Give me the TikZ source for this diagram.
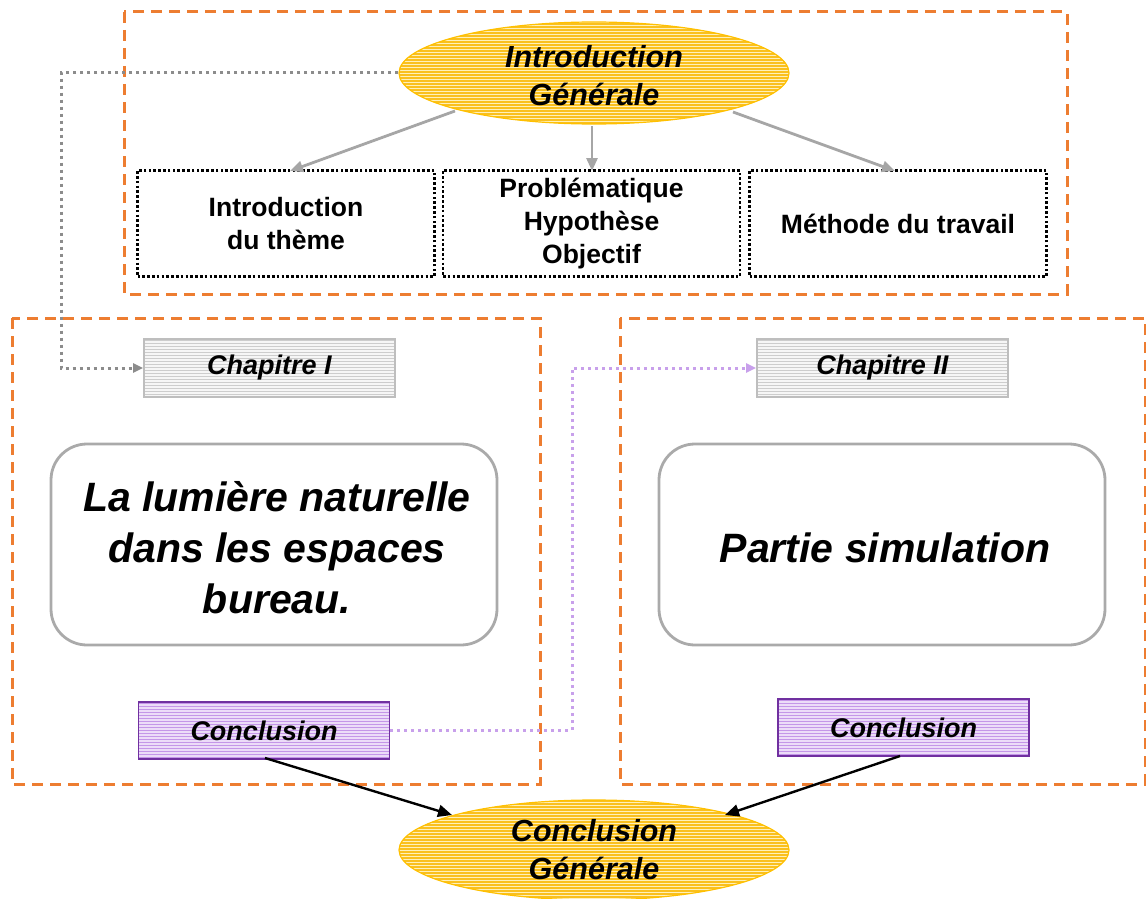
\documentclass[tikz,border=0pt]{standalone}
\usepackage{fontspec}
\setmainfont{Liberation Sans}
\usetikzlibrary{patterns,arrows.meta,shapes.geometric}
\definecolor{dashorange}{RGB}{237,125,49}
\definecolor{ellfill}{RGB}{250,192,30}
\definecolor{ellline}{RGB}{255,240,185}
\definecolor{ellborder}{RGB}{255,192,0}
\definecolor{chapfill}{RGB}{246,246,246}
\definecolor{chapline}{RGB}{205,205,205}
\definecolor{chapborder}{RGB}{190,190,190}
\definecolor{conclfill}{RGB}{236,220,248}
\definecolor{conclline}{RGB}{196,150,232}
\definecolor{conclborder}{RGB}{112,48,160}
\definecolor{arrgray}{RGB}{166,166,166}
\definecolor{dotgray}{RGB}{140,140,140}
\definecolor{dotpurple}{RGB}{200,160,235}
\definecolor{roundgray}{RGB}{170,170,170}
\tikzset{
  groupbox/.style={draw=dashorange, line width=3pt, dash pattern={on 11pt off 7pt}},
  bigell/.style={ellipse, minimum width=390pt, minimum height=102pt, draw=ellborder, line width=1.2pt,
    preaction={fill=ellfill}, pattern=horizontal lines, pattern color=ellline, align=center,
    font=\fontsize{30.5}{38}\selectfont\bfseries\itshape, inner sep=0pt},
  dotbox/.style={draw=black, line width=2.8pt, dash pattern={on 2.6pt off 2.2pt}, minimum width=297pt,
    minimum height=106pt, align=center, font=\fontsize{26.5}{33}\selectfont\bfseries, inner sep=0pt},
  chapbox/.style={draw=chapborder, line width=1.8pt, preaction={fill=chapfill}, pattern=horizontal lines,
    pattern color=chapline, minimum width=251pt, minimum height=58pt, inner sep=0pt,
    font=\fontsize{27}{30}\selectfont\bfseries\itshape},
  conclbox/.style={draw=conclborder, line width=1.8pt, preaction={fill=conclfill}, pattern=horizontal lines,
    pattern color=conclline, minimum width=251pt, minimum height=57pt, inner sep=0pt,
    font=\fontsize{27}{30}\selectfont\bfseries\itshape},
  roundbox/.style={draw=roundgray, line width=2.8pt, rounded corners=36pt, fill=white, minimum width=446pt,
    minimum height=201pt, inner sep=0pt},
  roundtext/.style={align=center, inner sep=0pt, font=\fontsize{41}{51}\selectfont\bfseries\itshape},
  grayarr/.style={draw=arrgray, line width=2.8pt, -{Triangle[length=13pt,width=11pt]}},
  blackarr/.style={draw=black, line width=2.4pt, -{Triangle[length=14pt,width=12pt]}},
  dotconn/.style={line width=3pt, dash pattern={on 3pt off 4pt}},
}
\begin{document}
\begin{tikzpicture}[x=1pt,y=-1pt]
\useasboundingbox (0,0) rectangle (1146,899);
% group boxes
\draw[groupbox] (124,12) rectangle (1067,294);
\draw[groupbox] (12,318) rectangle (540,784);
\draw[groupbox] (620,318) rectangle (1145,784);
% intro
\node[bigell] (intro) at (594,73) {\strut Introduction\\Générale};
\node[dotbox] (b1) at (286,223.5) {Introduction\\du thème};
\node[dotbox] (b2) at (591.5,223.5) {Problématique\\Hypothèse\\Objectif};
\node[dotbox] (b3) at (898,223.5) {Méthode du travail};
\coordinate (s1) at (455,111);
\coordinate (s2) at (592,126);
\coordinate (s3) at (733,112);
\coordinate (t1) at (290,171);
\coordinate (t2) at (592,171);
\coordinate (t3) at (895,171);
\draw[grayarr] (s1) -- (t1);
\draw[grayarr] (s2) -- (t2);
\draw[grayarr] (s3) -- (t3);
% chapters
\node[chapbox] (ch1) at (269.5,368) {Chapitre I};
\node[chapbox] (ch2) at (882.5,368) {Chapitre II};
\node[roundbox] (r1) at (274,544.5) {};
\node[roundtext] (r1t) at (277,547.5) {La lumière naturelle\\dans les espaces\\bureau.};
\node[roundbox] (r2) at (882,544.5) {};
\node[roundtext] (r2t) at (885,548) {Partie simulation};
\node[conclbox] (c1) at (264,730.5) {Conclusion};
\node[conclbox] (c2) at (903.5,727.5) {Conclusion};
\node[bigell, minimum height=100pt] (concl) at (594,850) {Conclusion\\Générale};
% connectors
\coordinate (m1) at (61,0);
\coordinate (m2) at (572,0);
\draw[dotconn, draw=dotgray, -{Triangle[length=10pt,width=9pt]}] (intro.west) -| (m1 |- ch1.west) -- (ch1.west);
\draw[dotconn, draw=dotpurple, -{Triangle[length=10pt,width=9pt]}] (c1.east) -| (m2 |- ch2.west) -- (ch2.west);
\coordinate (k1) at (265,758);
\coordinate (k2) at (900,756);
\coordinate (e1) at (452,815);
\coordinate (e2) at (725,815);
\draw[blackarr] (k1) -- (e1);
\draw[blackarr] (k2) -- (e2);
\end{tikzpicture}
\end{document}
